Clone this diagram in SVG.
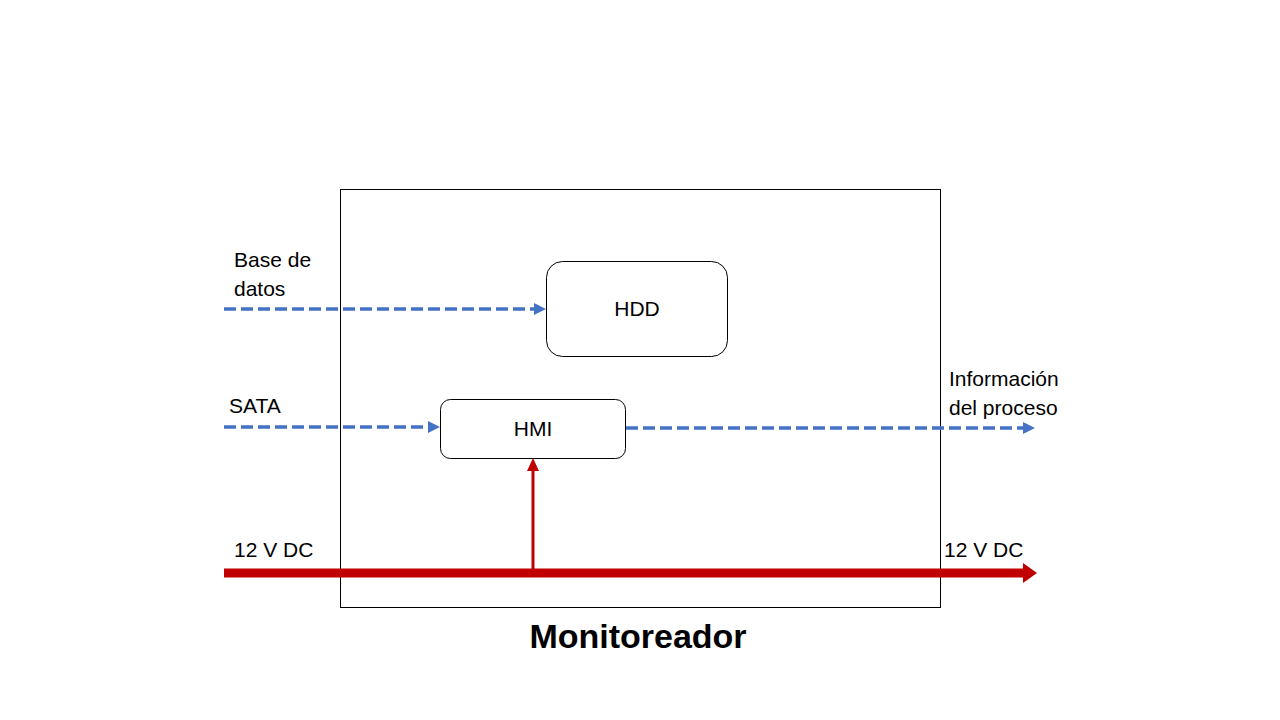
<svg xmlns="http://www.w3.org/2000/svg" width="1280" height="720" viewBox="0 0 1280 720">
<defs>
<style>
.t{font-family:"Liberation Sans",Arial,sans-serif;font-size:21px;fill:#000}
.box{fill:#fff;stroke:#000;stroke-width:1}
.data{stroke:#4472C4;stroke-width:3.5;stroke-dasharray:12 5;fill:none}
.ah{fill:#4472C4}
.rh{fill:#C00000}
.pwr{stroke:#C00000;fill:none}
</style>
</defs>
<rect width="1280" height="720" fill="#fff"/>
<g id="monitoreador">
<rect x="340.5" y="189.5" width="600" height="418" fill="#fff" stroke="#000" stroke-width="1"/>
<text x="638" y="648" text-anchor="middle" style="font-family:'Liberation Sans',Arial,sans-serif;font-size:34px;font-weight:bold">Monitoreador</text>
</g>
<g id="hdd">
<rect class="box" x="546.5" y="261.5" width="181" height="95" rx="16"/>
<text class="t" x="637" y="316" text-anchor="middle">HDD</text>
</g>
<g id="hmi">
<rect class="box" x="440.5" y="399.5" width="185" height="59" rx="10"/>
<text class="t" x="533" y="436" text-anchor="middle">HMI</text>
</g>
<g id="connectors">
<line class="data" x1="224" y1="309" x2="535" y2="309"/>
<polygon class="ah" points="546,309 534,303 534,315"/>
<line class="data" x1="224" y1="427" x2="429" y2="427"/>
<polygon class="ah" points="440,427 428,421 428,433"/>
<line class="data" x1="626" y1="428" x2="1023" y2="428"/>
<polygon class="ah" points="1035,428 1023,422 1023,434"/>
<line class="pwr" x1="224" y1="573" x2="1025" y2="573" stroke-width="9"/>
<polygon class="rh" points="1037,573 1023,563 1023,583"/>
<line class="pwr" x1="533" y1="573" x2="533" y2="469" stroke-width="3"/>
<polygon class="rh" points="533,458 527,471 539,471"/>
</g>
<g id="labels">
<text class="t" x="234" y="267">Base de</text>
<text class="t" x="234" y="296">datos</text>
<text class="t" x="229" y="413">SATA</text>
<text class="t" x="949" y="386">Información</text>
<text class="t" x="949" y="415">del proceso</text>
<text class="t" x="234" y="557">12 V DC</text>
<text class="t" x="944" y="557">12 V DC</text>
</g>
</svg>
